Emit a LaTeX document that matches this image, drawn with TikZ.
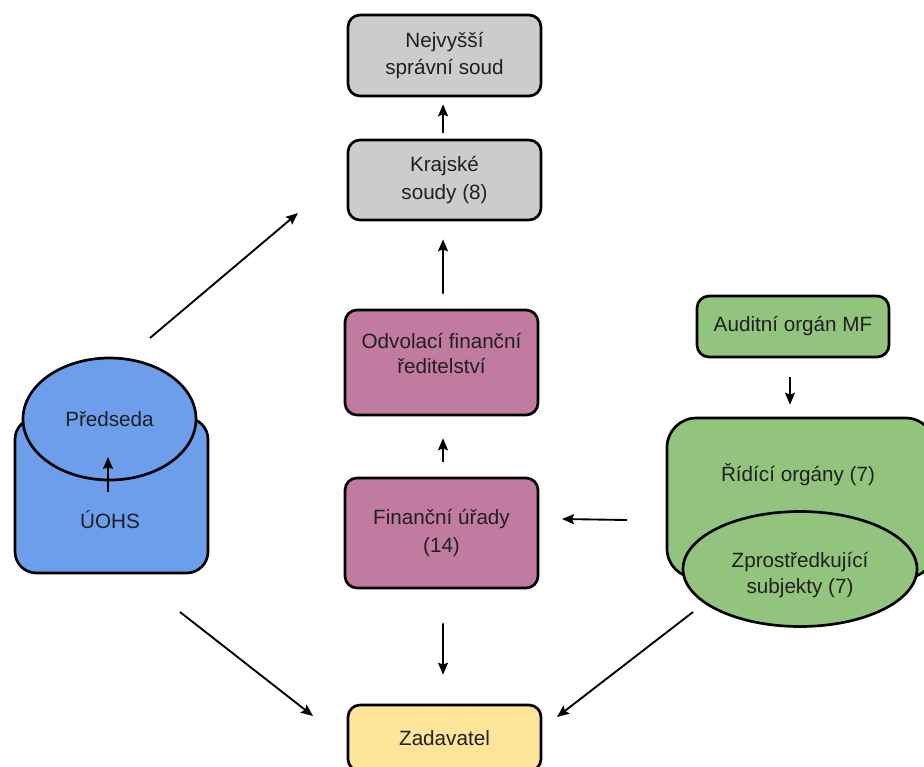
\documentclass[tikz,border=0pt]{standalone}
\usepackage{fontspec}
\setmainfont{Liberation Sans}
\usetikzlibrary{arrows.meta,shapes.geometric}
\definecolor{cgray}{HTML}{CCCCCC}
\definecolor{cmag}{HTML}{C27BA0}
\definecolor{cblue}{HTML}{6D9EEB}
\definecolor{cgreen}{HTML}{93C47D}
\definecolor{cyellow}{HTML}{FFE599}
\definecolor{ctext}{HTML}{202020}
\tikzset{
  box/.style={draw=black, line width=2pt, rounded corners=9pt, align=center,
    font=\fontsize{15.5}{20.5}\selectfont, text=ctext, inner sep=0pt},
  ell/.style={ellipse, draw=black, line width=2pt, align=center,
    font=\fontsize{15.5}{20.5}\selectfont, text=ctext, inner sep=0pt},
  lbl/.style={align=center, font=\fontsize{15.5}{20.5}\selectfont, text=ctext, inner sep=0pt},
  arr/.style={line width=1.4pt, -{Stealth[length=9pt,width=7.5pt,inset=1.5pt]}}
}
\begin{document}
\begin{tikzpicture}[x=0.75pt,y=-0.75pt]
\useasboundingbox (0,0) rectangle (924,767);
% courts
\node[box, fill=cgray, minimum width=144.75pt, minimum height=60.75pt] (nss) at (444.5,55.5) {Nejvyšší\\správní soud};
\node[box, fill=cgray, minimum width=144.75pt, minimum height=60pt] (kraj) at (444.5,180) {Krajské\\soudy (8)};
% finance
\node[box, fill=cmag, minimum width=144.75pt, minimum height=78.75pt,
  label={[lbl, font=\fontsize{15.5}{19}\selectfont, yshift=7pt]center:Odvolací finanční\\ředitelství}] (odv) at (441.5,362.5) {};
\node[box, fill=cmag, minimum width=144.75pt, minimum height=82.5pt] (fin) at (441.5,533) {Finanční úřady\\(14)};
% zadavatel
\node[box, fill=cyellow, minimum width=144.75pt, minimum height=49.5pt] (zad) at (444.5,738) {Zadavatel};
% UOHS
\node[box, fill=cblue, rounded corners=16pt, minimum width=144.75pt, minimum height=116.25pt] (uohs) at (111.5,495.5) {};
\node[lbl] (uohst) at (110,520) {ÚOHS};
\node[ell, fill=cblue, minimum width=129.75pt, minimum height=91.5pt] (pred) at (109.5,419) {Předseda};
\coordinate (p1) at (108,492);
\coordinate (p2) at (108,457);
\draw[arr] (p1) -- (p2);
% green
\node[box, fill=cgreen, minimum width=144pt, minimum height=45.75pt] (aud) at (793,326.5) {Auditní orgán MF};
\node[box, fill=cgreen, rounded corners=22pt, minimum width=201pt, minimum height=120pt] (ro) at (801,498) {};
\node[lbl] (rot) at (798,475) {Řídící orgány (7)};
\node[ell, fill=cgreen, minimum width=175.5pt, minimum height=86.25pt,
  label={[lbl, font=\fontsize{15.5}{19}\selectfont, yshift=-4.5pt]center:Zprostředkující\\subjekty (7)}] (zs) at (800,569) {};
% vertical arrows
\draw[arr, shorten <=4.5pt, shorten >=5.25pt] ([xshift=-1.1pt]kraj.north) -- ([xshift=-1.1pt]nss.south);
\draw[arr, shorten <=11.25pt, shorten >=13.5pt] ([xshift=1.1pt]odv.north) -- ([xshift=-1.1pt]kraj.south);
\draw[arr, shorten <=11.25pt, shorten >=16.5pt] ([xshift=1.1pt]fin.north) -- ([xshift=1.1pt]odv.south);
\draw[arr, shorten <=25.5pt, shorten >=21.75pt] ([xshift=1.1pt]fin.south) -- ([xshift=-1.1pt]zad.north);
\draw[arr, shorten <=14.25pt, shorten >=9pt] ([xshift=-2.25pt]aud.south) -- ([xshift=-8.25pt]ro.north);
% other arrows
\coordinate (a1) at (150,338);
\coordinate (a2) at (298,213);
\draw[arr] (a1) -- (a2);
\coordinate (b1) at (180,612);
\coordinate (b2) at (313,716);
\draw[arr] (b1) -- (b2);
\coordinate (c1) at (693,612);
\coordinate (c2) at (557,717);
\draw[arr] (c1) -- (c2);
\coordinate (d1) at (627,520);
\coordinate (d2) at (562,519);
\draw[arr] (d1) -- (d2);
\end{tikzpicture}
\end{document}
